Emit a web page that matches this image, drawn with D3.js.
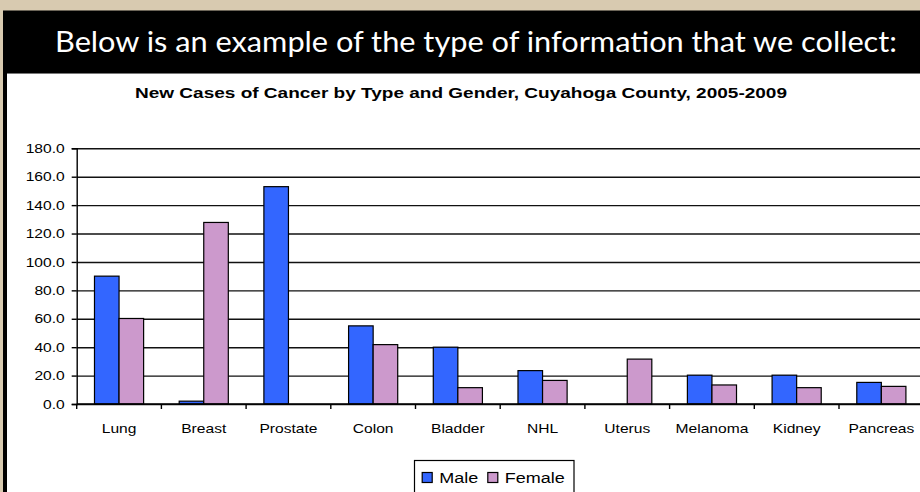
<!DOCTYPE html>
<html>
<head>
<meta charset="utf-8">
<script src="https://cdn.jsdelivr.net/npm/d3@7"></script>
<style>
  body { margin: 0; background: #d8cab0; }
  svg { display: block; font-family: "Liberation Sans", Arial, sans-serif; }
</style>
</head>
<body>
<svg id="chart" width="920" height="492"></svg>
<script>
const categories = ['Lung', 'Breast', 'Prostate', 'Colon', 'Bladder', 'NHL', 'Uterus', 'Melanoma', 'Kidney', 'Pancreas'];
const series = ['Male', 'Female'];
const male = [90.0, 2.0, 153.0, 55.0, 40.0, 23.5, 0, 20.3, 20.3, 15.2];
const female = [60.2, 127.8, 0, 41.8, 11.5, 16.6, 31.6, 13.4, 11.5, 12.4];
const yTicks = [0, 20, 40, 60, 80, 100, 120, 140, 160, 180];

const colors = { Male: '#3366ff', Female: '#cc99cc' };
const sx = 1.2; // the source picture is stretched sideways

const svg = d3.select('#chart');

// frame: black header band and left border, white panel
svg.append('rect').attr('x', 0).attr('y', 0).attr('width', 920).attr('height', 492).attr('fill', '#d8cab0');
svg.append('rect').attr('x', 3).attr('y', 10.5).attr('width', 917).attr('height', 482).attr('fill', '#000');
svg.append('rect').attr('x', 7).attr('y', 74).attr('width', 913).attr('height', 418).attr('fill', '#fff');
svg.append('line').attr('x1', 7).attr('x2', 920).attr('y1', 73.5).attr('y2', 73.5).attr('stroke', '#777');

svg.append('text')
    .attr('x', 55).attr('y', 52)
    .attr('textLength', 842).attr('lengthAdjust', 'spacingAndGlyphs')
    .style('font-family', 'Lato, "Open Sans", sans-serif')
    .style('font-size', '28px')
    .attr('fill', '#fff')
    .text('Below is an example of the type of information that we collect:');

svg.append('text')
    .attr('x', 135).attr('y', 98)
    .attr('textLength', 652).attr('lengthAdjust', 'spacingAndGlyphs')
    .style('font-size', '15px').style('font-weight', 'bold')
    .text('New Cases of Cancer by Type and Gender, Cuyahoga County, 2005-2009');

// scales
const x = d3.scaleBand().domain(categories).range([76.7, 923.7]).paddingInner(0.42).paddingOuter(0.21);
const xs = d3.scaleBand().domain(series).range([0, x.bandwidth()]);
const y = d3.scaleLinear().domain([0, 180]).range([404, 148.3]);

// gridlines
svg.append('g')
    .attr('transform', 'translate(76.7,0)')
    .call(d3.axisLeft(y).tickValues(yTicks).tickSize(-850).tickFormat(''))
    .call(g => g.select('.domain').remove())
    .call(g => g.selectAll('line').attr('stroke', '#111').attr('stroke-width', 1.4));

// bars
const rows = categories.map((c, i) => ({ cat: c, Male: male[i], Female: female[i] }));
const group = svg.append('g').selectAll('g')
    .data(rows)
    .enter().append('g')
    .attr('transform', d => `translate(${x(d.cat)},0)`);

group.selectAll('rect')
    .data(d => series.map(s => ({ s, v: d[s] })).filter(d => d.v > 0))
    .enter().append('rect')
    .attr('x', d => xs(d.s))
    .attr('width', xs.bandwidth())
    .attr('y', d => y(d.v))
    .attr('height', d => y(0) - y(d.v))
    .attr('fill', d => colors[d.s])
    .attr('stroke', '#000')
    .attr('stroke-width', 1.2);

// y axis
svg.append('g')
    .attr('transform', 'translate(76.7,0)')
    .call(d3.axisLeft(y).tickValues(yTicks).tickSize(5).tickPadding(5).tickFormat(d3.format('.1f')))
    .call(g => g.select('.domain').attr('stroke', '#000').attr('stroke-width', 1.4))
    .call(g => g.selectAll('line').attr('stroke', '#000').attr('stroke-width', 1.4))
    .call(g => g.selectAll('text')
        .attr('x', -10)
        .attr('transform', `scale(${sx},1)`)
        .style('font-size', '13px').attr('fill', '#000'));

// x axis: baseline, tick marks at band edges, labels at centres
const xAxis = svg.append('g').attr('transform', 'translate(0,404)');
xAxis.append('line')
    .attr('x1', 76.7).attr('x2', 920)
    .attr('stroke', '#000').attr('stroke-width', 1.4);
xAxis.selectAll('.edge')
    .data(categories)
    .enter().append('line')
    .attr('class', 'edge')
    .attr('x1', d => x(d) - x.step() * x.paddingOuter())
    .attr('x2', d => x(d) - x.step() * x.paddingOuter())
    .attr('y1', 0).attr('y2', 5)
    .attr('stroke', '#000').attr('stroke-width', 1.4);
xAxis.selectAll('.lbl')
    .data(categories)
    .enter().append('g')
    .attr('transform', d => `translate(${x(d) + x.bandwidth() / 2},29)`)
    .append('text')
    .attr('text-anchor', 'middle')
    .attr('transform', `scale(${sx},1)`)
    .style('font-size', '13px')
    .text(d => d);

// legend
const legend = svg.append('g');
legend.append('rect')
    .attr('x', 414.5).attr('y', 460.5).attr('width', 159.5).attr('height', 40)
    .attr('fill', '#fff').attr('stroke', '#000').attr('stroke-width', 1.2);
const lx = d3.scaleOrdinal().domain(series).range([421.7, 487.3]);
const item = legend.selectAll('.item')
    .data(series)
    .enter().append('g')
    .attr('transform', d => `translate(${lx(d)},0)`);
item.append('rect')
    .attr('x', 0.5).attr('y', 472.5).attr('width', 10).attr('height', 10)
    .attr('fill', d => colors[d]).attr('stroke', '#000').attr('stroke-width', 1.2);
item.append('g')
    .attr('transform', 'translate(17.5,483)')
    .append('text')
    .attr('transform', `scale(${sx},1)`)
    .style('font-size', '15px')
    .text(d => d);
</script>
</body>
</html>
